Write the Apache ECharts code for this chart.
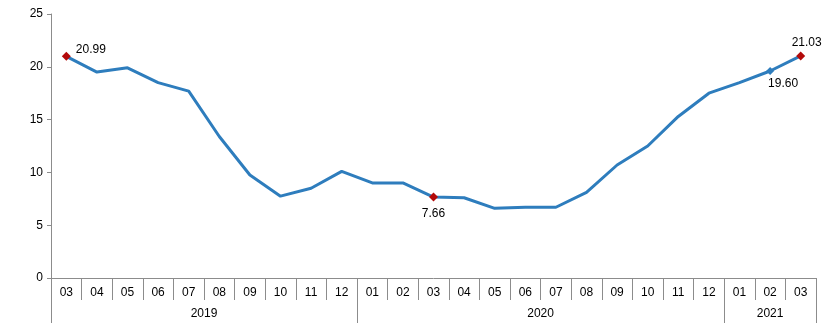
<!DOCTYPE html>
<html>
<head>
<meta charset="utf-8">
<script src="https://cdn.jsdelivr.net/npm/echarts@6/dist/echarts.min.js"></script>
<style>html,body{margin:0;padding:0;background:#fff}#c{width:828px;height:335px}</style>
</head>
<body>
<div id="c"></div>
<script>
var months = ['03','04','05','06','07','08','09','10','11','12',
              '01','02','03','04','05','06','07','08','09','10','11','12',
              '01','02','03'];
var years = ['2019','2020','2021'];
var yearCounts = [10, 12, 3];
var values = [20.99,19.5,19.9,18.5,17.7,13.4,9.75,7.75,8.5,10.1,
              9.0,9.0,7.66,7.6,6.6,6.7,6.7,8.1,10.7,12.5,15.3,17.5,
              18.5,19.6,21.03];
var yTicks = [0,5,10,15,20,25];

var FONT = 'Liberation Sans, Arial, sans-serif';
var lineColor = '#2e7dbd';
var red = '#b30a0a';

// year boundaries & centers derived from counts
var bounds = [0], centers = [], acc = 0;
yearCounts.forEach(function(c){ centers.push(acc + c/2); acc += c; bounds.push(acc); });

var labelCfg = {
  0: {pos:'right', offset:[0,-7], sym:red, size:9},
  12:{pos:'bottom', offset:[0,1], sym:red, size:9},
  23:{pos:'bottom', offset:[13,-2], sym:lineColor, size:8},
  24:{pos:'top', offset:[6,2], sym:red, size:9}
};

var seriesData = values.map(function(v,i){
  var c = labelCfg[i];
  if (!c) return {value:v, symbol:'none'};
  return {
    value:v, symbol:'diamond', symbolSize:c.size,
    itemStyle:{color:c.sym},
    label:{show:true, position:c.pos, offset:c.offset, formatter: v.toFixed(2),
      color:'#000', fontFamily:FONT, fontSize:12}
  };
});

var chart = echarts.init(document.getElementById('c'), null, {renderer:'canvas'});
chart.setOption({
  animation:false,
  backgroundColor:'#fff',
  grid:{left:51, right:12, top:14, bottom:57, containLabel:false},
  xAxis:[{
    type:'category', data:months, boundaryGap:true,
    axisLine:{show:true, lineStyle:{color:'#8c8c8c', width:1}},
    axisTick:{show:true, interval:0, length:22, lineStyle:{color:'#8c8c8c'}},
    axisLabel:{interval:0, margin:9, color:'#000', fontFamily:FONT, fontSize:12},
    splitLine:{show:false}
  },{
    type:'value', position:'bottom', min:0, max:months.length,
    axisLine:{show:false},
    axisTick:{show:true, customValues:bounds, length:45, lineStyle:{color:'#8c8c8c'}},
    axisLabel:{show:true, customValues:centers, margin:30, color:'#000', fontFamily:FONT, fontSize:12,
      formatter:function(v){ var i = centers.indexOf(v); return i>=0 ? years[i] : ''; }},
    splitLine:{show:false}
  }],
  yAxis:{
    type:'value', min:yTicks[0], max:yTicks[yTicks.length-1], interval:yTicks[1]-yTicks[0],
    axisLine:{show:true, lineStyle:{color:'#8c8c8c'}},
    axisTick:{show:true, length:4, lineStyle:{color:'#8c8c8c'}},
    axisLabel:{margin:8, color:'#000', fontFamily:FONT, fontSize:12},
    splitLine:{show:false}
  },
  series:[{
    type:'line', xAxisIndex:0, data:seriesData, showSymbol:true,
    lineStyle:{color:lineColor, width:3},
    itemStyle:{color:lineColor},
    z:3
  }]
});
</script>
</body>
</html>
